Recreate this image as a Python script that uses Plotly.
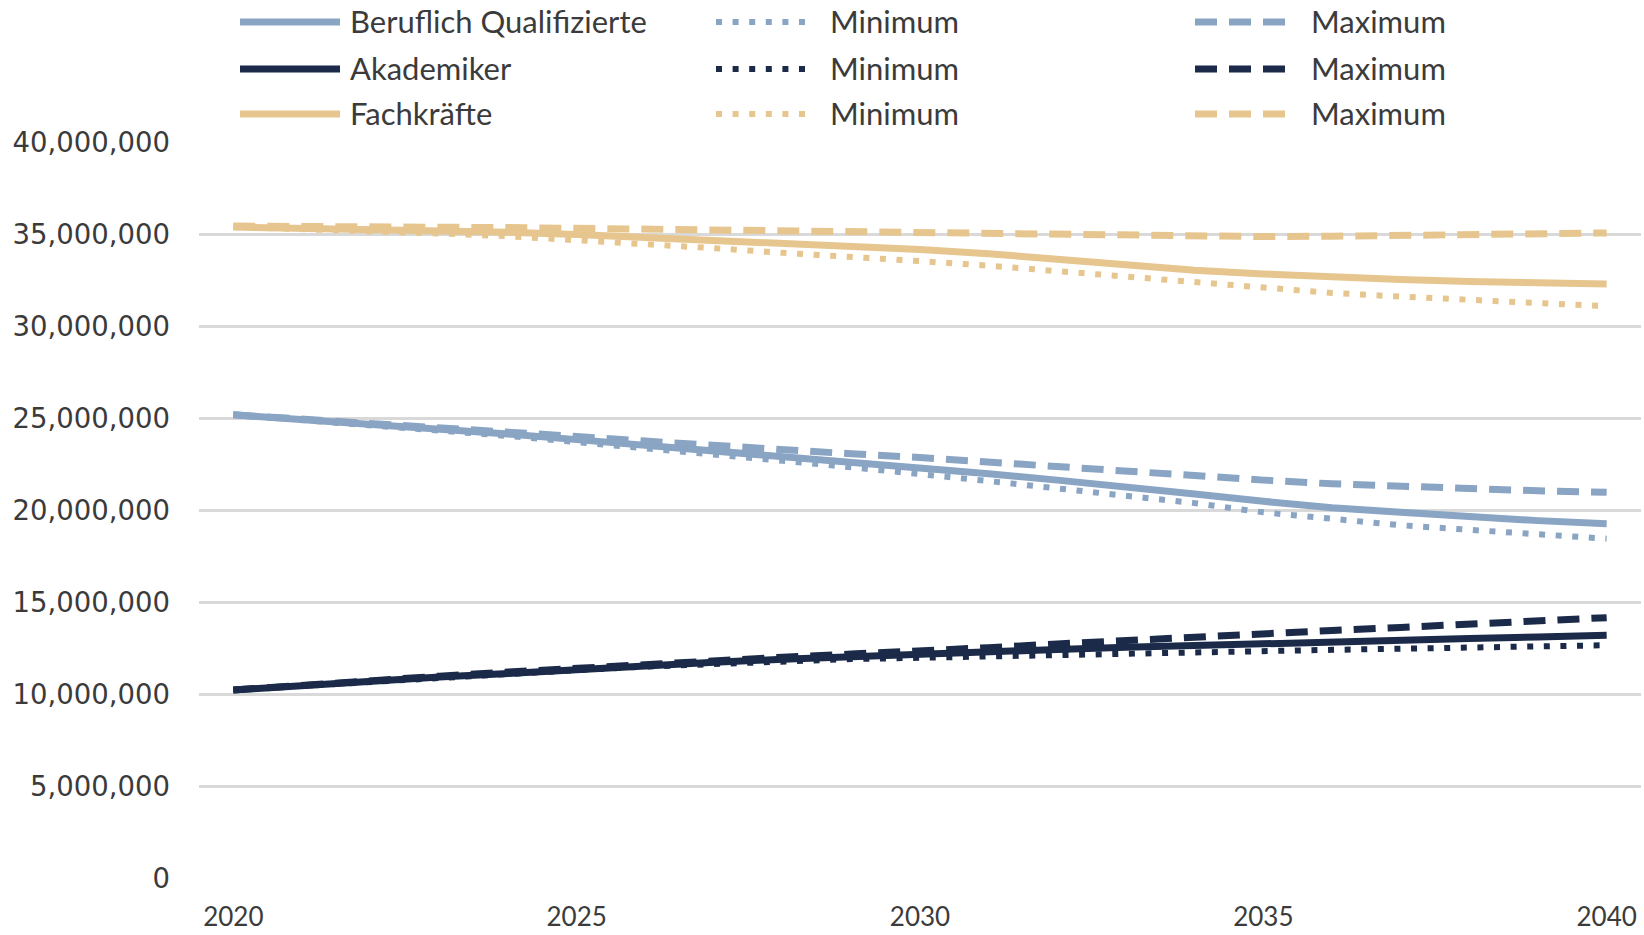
import plotly.graph_objects as go

# Projection years and axis ticks
years = list(range(2020, 2041))
x_ticks = [2020, 2025, 2030, 2035, 2040]
y_ticks = list(range(0, 40_000_001, 5_000_000))

# Workforce projections in millions of persons
beruflich = [25.20, 24.95, 24.70, 24.45, 24.15, 23.85, 23.55, 23.25, 22.95, 22.65, 22.35,
             22.00, 21.65, 21.30, 20.90, 20.50, 20.15, 19.90, 19.65, 19.45, 19.28]
beruflich_min = [25.20, 24.93, 24.65, 24.35, 24.05, 23.72, 23.40, 23.05, 22.70, 22.35, 22.00,
                 21.60, 21.20, 20.80, 20.40, 19.90, 19.55, 19.20, 18.95, 18.70, 18.47]
beruflich_max = [25.20, 24.98, 24.75, 24.52, 24.28, 24.02, 23.77, 23.52, 23.30, 23.08, 22.88,
                 22.62, 22.35, 22.10, 21.85, 21.65, 21.45, 21.30, 21.17, 21.07, 20.99]

akademiker = [10.25, 10.50, 10.72, 10.95, 11.15, 11.38, 11.58, 11.75, 11.92, 12.07, 12.20,
              12.33, 12.45, 12.57, 12.68, 12.77, 12.86, 12.95, 13.04, 13.13, 13.22]
akademiker_min = [10.25, 10.48, 10.70, 10.92, 11.12, 11.33, 11.52, 11.68, 11.82, 11.93, 12.00,
                  12.08, 12.18, 12.27, 12.33, 12.38, 12.43, 12.49, 12.55, 12.62, 12.68]
akademiker_max = [10.25, 10.52, 10.76, 11.00, 11.22, 11.44, 11.65, 11.85, 12.03, 12.20, 12.35,
                  12.55, 12.75, 12.95, 13.12, 13.30, 13.48, 13.65, 13.82, 14.00, 14.18]

fachkraefte = [35.40, 35.35, 35.30, 35.22, 35.12, 35.00, 34.85, 34.70, 34.50, 34.35, 34.18,
               33.95, 33.65, 33.35, 33.05, 32.85, 32.68, 32.55, 32.44, 32.36, 32.30]
fachkraefte_min = [35.40, 35.30, 35.20, 35.05, 34.90, 34.70, 34.50, 34.25, 34.00, 33.80, 33.55,
                   33.30, 33.00, 32.70, 32.40, 32.05, 31.82, 31.62, 31.45, 31.28, 31.10]
fachkraefte_max = [35.45, 35.45, 35.42, 35.40, 35.37, 35.33, 35.28, 35.24, 35.20, 35.17, 35.12,
                   35.05, 34.98, 34.92, 34.90, 34.88, 34.90, 34.93, 34.98, 35.03, 35.08]

group_names = ["Beruflich Qualifizierte", "Akademiker", "Fachkräfte"]
variant_names = [None, "Minimum", "Maximum"]

# Styling
colors = ["#8AA4C3", "#1B2A48", "#E6C68E"]
variant_styles = [
    dict(width=7, dash="solid"),
    dict(width=6, dash="6px,10.6px"),
    dict(width=7, dash="22px,12px"),
]
TEXT = "#3B3B3B"
GRID = "#D9D9D9"

W, H = 1644, 935
M_L, M_R, M_T, M_B = 199, 3, 142, 56

series = [
    [beruflich, beruflich_min, beruflich_max],
    [akademiker, akademiker_min, akademiker_max],
    [fachkraefte, fachkraefte_min, fachkraefte_max],
]

fig = go.Figure()
for g, (name, color, variants) in enumerate(zip(group_names, colors, series)):
    for v, values in enumerate(variants):
        label = variant_names[v] or name
        fig.add_trace(go.Scatter(
            x=years,
            y=[val * 1e6 for val in values],
            mode="lines",
            name=label,
            showlegend=False,
            line=dict(color=color, **variant_styles[v]),
        ))


def px_x(px):
    return (px - M_L) / (W - M_L - M_R)


def px_y(py):
    return (H - M_B - py) / (H - M_T - M_B)


# Three-column legend above the plot area
row_y = [22, 69, 114]
sym_x = [(240, 340), (716, 808), (1195, 1292)]
text_x = [348, 828, 1309]
shapes, annotations = [], []
for g, name in enumerate(group_names):
    for v in range(3):
        x0, x1 = sym_x[v]
        st = variant_styles[v]
        shapes.append(dict(
            type="line", xref="paper", yref="paper",
            x0=px_x(x0), x1=px_x(x1), y0=px_y(row_y[g]), y1=px_y(row_y[g]),
            line=dict(color=colors[g], width=st["width"], dash=st["dash"]),
        ))
        annotations.append(dict(
            xref="paper", yref="paper", x=px_x(text_x[v]), y=px_y(row_y[g] - 1),
            xanchor="left", yanchor="middle", showarrow=False,
            text=variant_names[v] or name,
            font=dict(family="Lato, Open Sans, sans-serif", size=31, color=TEXT),
        ))

fig.update_layout(
    width=W, height=H,
    margin=dict(l=M_L, r=M_R, t=M_T, b=M_B, pad=0),
    paper_bgcolor="white", plot_bgcolor="white",
    shapes=shapes, annotations=annotations,
    showlegend=False,
)
fig.update_xaxes(
    range=[2019.5, 2040.5],
    tickmode="array", tickvals=x_ticks, ticktext=[str(t) for t in x_ticks],
    showgrid=False, zeroline=False, showline=False, ticks="",
    ticklabelstandoff=20,
    tickfont=dict(family="Lato, Open Sans, sans-serif", size=26, color=TEXT),
)
fig.update_yaxes(
    range=[-20000, 40020000],
    tickmode="array", tickvals=y_ticks,
    tickformat=",d",
    showgrid=True, gridcolor=GRID, gridwidth=2.5,
    zeroline=False, showline=False, ticks="",
    ticklabelstandoff=28,
    tickfont=dict(family="DejaVu Sans, sans-serif", size=27.5, color=TEXT),
)

fig.write_html("out.html")
